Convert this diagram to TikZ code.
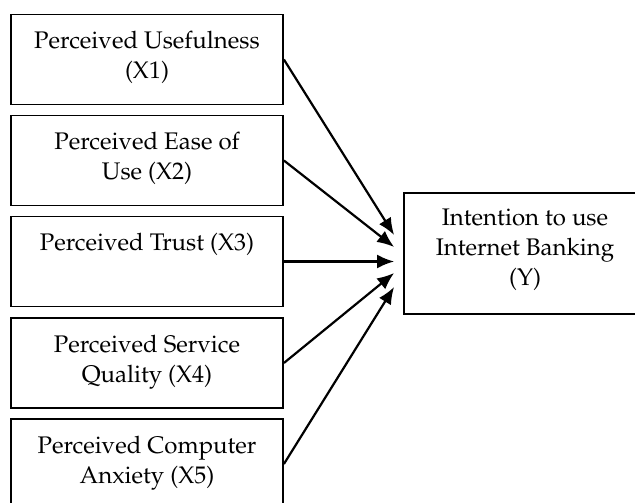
\documentclass[tikz,border=0pt]{standalone}
\usepackage[T1]{fontenc}
\usepackage{mathpazo}
\usepackage{tikz}
\usetikzlibrary{calc}
\usetikzlibrary{arrows.meta}

\tikzset{
  factor/.style={draw, line width=0.9pt, minimum width=136pt, minimum height=45pt,
    inner sep=0pt, font=\fontsize{12}{15}\selectfont},
  outcome/.style={factor, minimum width=121pt, minimum height=60.5pt},
  link/.style={-{Latex[length=8.5pt,width=7pt]}, line width=1.1pt}
}
\newcommand{\toptext}[3]{\parbox[c][#1][t]{#2}{\centering #3}}

\begin{document}
\begin{tikzpicture}[x=0.5pt, y=-0.5pt]
  \useasboundingbox (0,0) rectangle (635,502);
  % independent variables
  \node[factor] (pu) at (147,59.5) {\toptext{28pt}{130pt}{Perceived Usefulness\\(X1)}};
  \node[factor] (pe) at (147,160.5) {\toptext{28pt}{130pt}{Perceived Ease of\\Use (X2)}};
  \node[factor] (pt) at (147,261.5) {\toptext{28pt}{130pt}{Perceived Trust (X3)}};
  \node[factor] (ps) at (147,363) {\toptext{28pt}{130pt}{Perceived Service\\Quality (X4)}};
  \node[factor] (pc) at (147,464) {\toptext{28pt}{130pt}{Perceived Computer\\Anxiety (X5)}};
  % dependent variable
  \node[outcome] (iy) at (525,253.5) {\toptext{44.5pt}{115pt}{Intention to use\\Internet Banking\\(Y)}};

  \draw[link] (pu.east) -- ($(iy.west)+(-9,-18.5)$);
  \draw[link] (pe.east) -- ($(iy.west)+(-9,-6.5)$);
  \draw[link] (pt.east) -- ($(iy.west)+(-9,8)$);
  \draw[link] (ps.east) -- ($(iy.west)+(-9,19.5)$);
  \draw[link] (pc.east) -- ($(iy.west)+(-9,33.5)$);
\end{tikzpicture}
\end{document}
